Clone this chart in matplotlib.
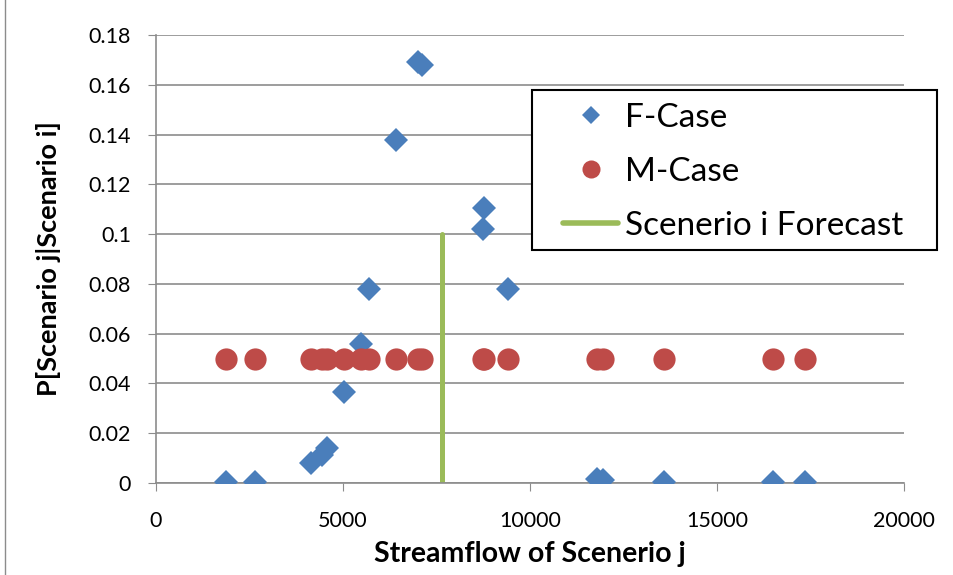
import matplotlib
matplotlib.use("Agg")
import matplotlib.pyplot as plt
from matplotlib.patches import Rectangle
from matplotlib.lines import Line2D

plt.rcParams['font.family'] = ['Lato', 'DejaVu Sans']

streamflow = [1870, 2650, 4140, 4430, 4580, 5030, 5480, 5700, 6420, 7000, 7100,
              8750, 8770, 9410, 11800, 11950, 13580, 16500, 17350]
f_case = [0.0004, 0.0004, 0.008, 0.0112, 0.0142, 0.0365, 0.056, 0.078, 0.138, 0.169, 0.168,
          0.102, 0.1105, 0.078, 0.0015, 0.0012, 0.0004, 0.0004, 0.0004]
m_case = [0.05] * len(streamflow)
forecast_x = 7650
forecast_y = [0.0, 0.1]

x_ticks = [0, 5000, 10000, 15000, 20000]
x_tick_labels = ['0', '5000', '10000', '15000', '20000']
y_ticks = [0, 0.02, 0.04, 0.06, 0.08, 0.1, 0.12, 0.14, 0.16, 0.18]
y_tick_labels = ['0', '0.02', '0.04', '0.06', '0.08', '0.1', '0.12', '0.14', '0.16', '0.18']

blue = '#4A7EBB'
red = '#BE4B48'
green = '#9BBB59'
grid_c = '#8C8C8C'

fig = plt.figure(figsize=(9.54, 5.75), dpi=100)
ax = fig.add_axes([156/954, 1-483/575, (904-156)/954, (483-35)/575])

ax.plot(streamflow, f_case, linestyle='none', marker='D', ms=12, color=blue,
        markeredgewidth=0, label='F-Case', zorder=3)
ax.plot(streamflow, m_case, linestyle='none', marker='o', ms=16, color=red,
        markeredgewidth=0, label='M-Case', zorder=3)
ax.plot([forecast_x, forecast_x], forecast_y, color=green, lw=3.6, label='Scenerio i Forecast',
        solid_capstyle='round', zorder=2)

ax.set_xlim(0, 20000)
ax.set_ylim(0, 0.18)
ax.set_xticks(x_ticks)
ax.set_xticklabels(x_tick_labels)
ax.set_yticks(y_ticks)
ax.set_yticklabels(y_tick_labels)
ax.grid(axis='y', color=grid_c, lw=1.2)
ax.set_axisbelow(True)
for s in ['top', 'right']:
    ax.spines[s].set_visible(False)
for s in ['left', 'bottom']:
    ax.spines[s].set_color(grid_c)
    ax.spines[s].set_linewidth(1.2)
ax.tick_params(axis='x', direction='out', length=6, color=grid_c, labelsize=15.5, pad=14)
ax.tick_params(axis='y', direction='out', length=6, color=grid_c, labelsize=15.5, pad=12)
ax.set_xlabel('Streamflow of Scenerio j', fontsize=20.5, fontweight='bold')
ax.set_ylabel('P[Scenario j|Scenario i]', fontsize=19.5, fontweight='bold')
ax.xaxis.set_label_coords(0.5, (483-541)/448)
ax.yaxis.set_label_coords((61-156)/748, 0.5)

handles = [Line2D([], [], linestyle='none', marker='D', ms=9.5, color=blue, markeredgewidth=0),
           Line2D([], [], linestyle='none', marker='o', ms=13, color=red, markeredgewidth=0),
           Line2D([], [], color=green, lw=4, solid_capstyle='round')]
leg = fig.legend(handles, ['F-Case', 'M-Case', 'Scenerio i Forecast'],
                 loc='center left', bbox_to_anchor=(563/954, 1-172/575), fontsize=24,
                 frameon=False, handlelength=1.65, labelspacing=0.72, borderpad=0,
                 borderaxespad=0, handletextpad=0.2)

fig.patches.append(Rectangle((532/954, 1-250/575), (937-532)/954, 160/575,
                             transform=fig.transFigure, fill=True, facecolor='white',
                             edgecolor='black', lw=1.5, zorder=5))
leg.set_zorder(6)

fig.patches.append(Rectangle((5/954, -0.1), 1.2, 1.2, transform=fig.transFigure,
                             fill=False, edgecolor=grid_c, lw=1))

fig.savefig('out.png', dpi=100)
